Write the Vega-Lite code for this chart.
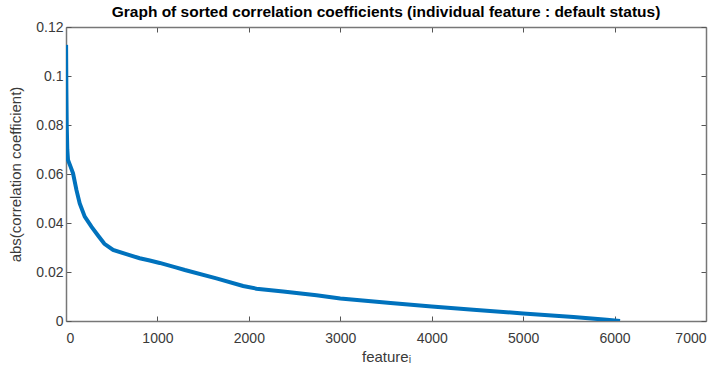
{
  "$schema": "https://vega.github.io/schema/vega-lite/v6.json",
  "autosize": "none",
  "width": 640,
  "height": 294,
  "padding": {"left": 66, "top": 27, "right": 18, "bottom": 51},
  "background": "white",
  "config": {
    "font": "Liberation Sans",
    "view": {"stroke": null},
    "axis": {"grid": false, "domainColor": "#777777", "tickColor": "#555555", "labelColor": "#3a3a3a", "titleColor": "#3a3a3a", "labelFont": "Liberation Sans", "titleFont": "Liberation Sans", "labelFontSize": 14, "titleFontSize": 15, "titleFontWeight": "normal", "tickSize": -5, "domainWidth": 1.5}
  },
  "title": {"text": "Graph of sorted correlation coefficients (individual feature : default status)", "fontSize": 15.5, "fontWeight": "bold", "color": "#000000", "font": "Liberation Sans", "offset": 0},
  "data": {"values": [
    {"f": 1, "r": 0.1127},
    {"f": 4, "r": 0.095},
    {"f": 8, "r": 0.08},
    {"f": 14, "r": 0.07},
    {"f": 22, "r": 0.0657},
    {"f": 50, "r": 0.063},
    {"f": 77, "r": 0.0603},
    {"f": 114, "r": 0.0535},
    {"f": 150, "r": 0.048},
    {"f": 205, "r": 0.0426},
    {"f": 278, "r": 0.0385},
    {"f": 350, "r": 0.0349},
    {"f": 420, "r": 0.0315},
    {"f": 515, "r": 0.029},
    {"f": 660, "r": 0.0273},
    {"f": 806, "r": 0.0256},
    {"f": 916, "r": 0.0247},
    {"f": 1025, "r": 0.0237},
    {"f": 1200, "r": 0.0219},
    {"f": 1300, "r": 0.0208},
    {"f": 1645, "r": 0.0174},
    {"f": 1937, "r": 0.0143},
    {"f": 2083, "r": 0.0132},
    {"f": 2375, "r": 0.012},
    {"f": 2740, "r": 0.0105},
    {"f": 3000, "r": 0.0092},
    {"f": 3550, "r": 0.0073},
    {"f": 4000, "r": 0.0059},
    {"f": 4455, "r": 0.0046},
    {"f": 5000, "r": 0.0031},
    {"f": 5550, "r": 0.0016},
    {"f": 5915, "r": 0.0005},
    {"f": 6060, "r": 0.0}
  ]},
  "encoding": {
    "x": {"field": "f", "type": "quantitative", "scale": {"domain": [0, 7000], "nice": false}},
    "y": {"field": "r", "type": "quantitative", "scale": {"domain": [0, 0.12], "nice": false}}
  },
  "layer": [
    {
      "mark": {"type": "line", "color": "#0072BD", "strokeWidth": 4, "strokeCap": "butt", "clip": true},
      "encoding": {
        "x": {"field": "f", "type": "quantitative", "axis": {"title": "featureᵢ", "values": [0,1000,2000,3000,4000,5000,6000,7000], "format": "d", "labelPadding": 15, "titlePadding": 4}},
        "y": {"field": "r", "type": "quantitative", "axis": {"title": "abs(correlation coefficient)", "values": [0,0.02,0.04,0.06,0.08,0.1,0.12], "format": ".2~f", "labelPadding": 8, "titlePadding": 12}}
      }
    },
    {
      "mark": {"type": "line", "opacity": 0},
      "encoding": {
        "x": {"field": "f", "type": "quantitative", "axis": {"orient": "top", "title": null, "labels": false, "values": [0,1000,2000,3000,4000,5000,6000,7000]}},
        "y": {"field": "r", "type": "quantitative", "axis": {"orient": "right", "title": null, "labels": false, "values": [0,0.02,0.04,0.06,0.08,0.1,0.12]}}
      }
    }
  ],
  "resolve": {"axis": {"x": "independent", "y": "independent"}}
}
